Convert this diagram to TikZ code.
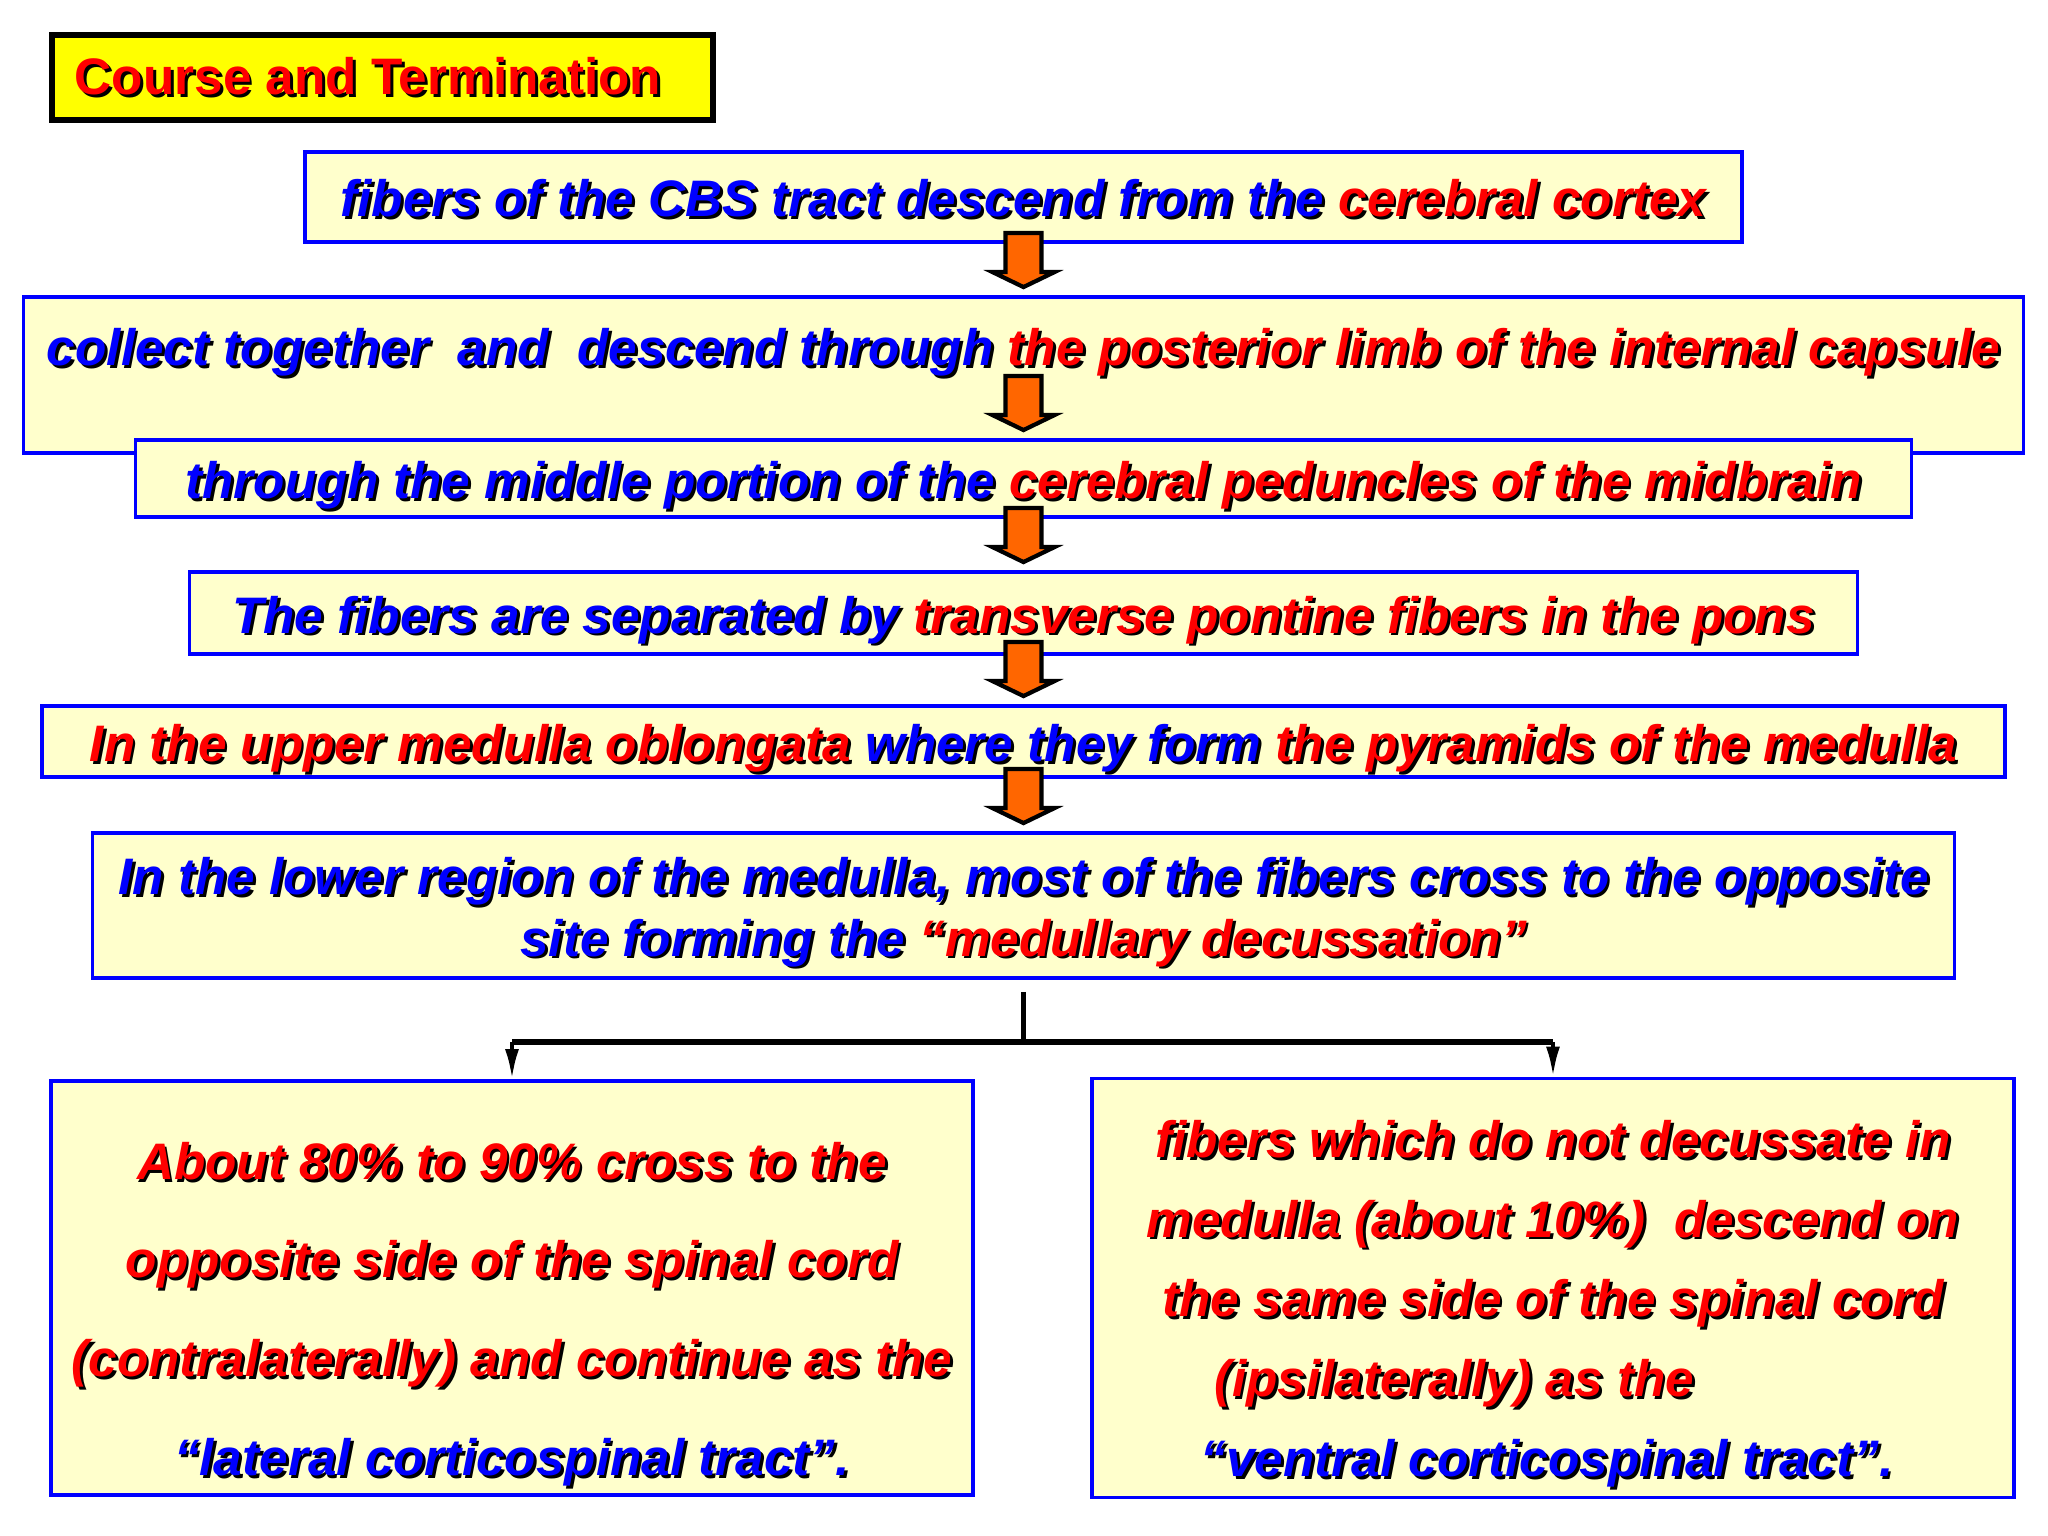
\documentclass[tikz,border=0pt]{standalone}
\usepackage{fontspec}
\setmainfont{Liberation Sans}
\usepackage{tikz}
\usetikzlibrary{arrows.meta,positioning}
\usepackage{xcolor}
\definecolor{tbblue}{RGB}{0,0,255}
\definecolor{tbred}{RGB}{255,0,0}
\definecolor{tbfill}{RGB}{255,255,204}
\definecolor{tbyellow}{RGB}{255,255,0}
\definecolor{tborange}{RGB}{255,102,0}
\newcommand{\shadowed}[2]{\leavevmode\rlap{\kern0.8pt\raisebox{-0.8pt}{\color{black}#2}}{\color{#1}#2}}
\newcommand{\bluetx}[1]{\shadowed{tbblue}{#1}}
\newcommand{\redtx}[1]{\shadowed{tbred}{#1}}
\tikzstyle{heading} = [rectangle, draw=black, fill=tbyellow, line width=1.6pt, minimum width=6.61cm, minimum height=0.85cm, inner sep=0pt, font=\bfseries\fontsize{14.6}{17.4}\selectfont]
\tikzstyle{stage} = [rectangle, draw=tbblue, fill=tbfill, line width=1.1pt, text centered, inner sep=0pt, text height=0.55cm, text depth=0.15cm, font=\bfseries\itshape\fontsize{14.6}{17.4}\selectfont]
\tikzstyle{outcome} = [stage, align=center, minimum width=9.22cm]
\tikzstyle{blockarrow} = [draw=black, fill=tborange, line width=1.2pt, line join=miter]
\tikzstyle{trunk} = [line width=1.2pt]
\tikzstyle{forkbar} = [line width=1.8pt]
\tikzstyle{drop} = [line width=1.1pt, -{Latex[length=3mm,width=1.4mm]}]

\begin{document}
\begin{tikzpicture}
\useasboundingbox (0,0) rectangle (20.48,-15.36);

% Title
\node (heading) [heading] at (3.825,-0.775) {\redtx{Course and Termination}\hspace*{0.29cm}};

% Descending path
\node (cortex) [stage, minimum width=14.37cm, minimum height=0.90cm] at (10.235,-1.97) {\bluetx{fibers of the CBS tract descend from the} \redtx{cerebral cortex}};
\node (capsule) [stage, below of=cortex, node distance=1.78cm, minimum width=20cm, text height=0.69cm, text depth=0.87cm] {\bluetx{collect together\ \ and\ \ descend through} \redtx{the posterior limb of the internal capsule}};
\node (ped) [stage, below of=capsule, node distance=1.035cm, minimum width=17.76cm, minimum height=0.77cm] {\bluetx{through the middle portion of the} \redtx{cerebral peduncles of the midbrain}};
\node (pons) [stage, below of=ped, node distance=1.345cm, minimum width=16.68cm, minimum height=0.82cm] {\bluetx{The fibers are separated by} \redtx{transverse pontine fibers in the pons}};
\node (pyr) [stage, below of=pons, node distance=1.285cm, minimum width=19.63cm, minimum height=0.71cm] {\redtx{In the upper medulla oblongata} \bluetx{where they form} \redtx{the pyramids of the medulla}};
\node (dec) [stage, align=center, below of=pyr, node distance=1.64cm, minimum width=18.62cm, minimum height=1.45cm, text height=1.15cm, text depth=0.14cm] {\bluetx{In the lower region of the medulla, most of the fibers cross to the opposite}\\ \bluetx{site forming the} \redtx{“medullary decussation”}};

% Block arrows
\foreach \nxt in {capsule,ped,pons,pyr,dec}
  \draw[blockarrow] ([yshift=0.8mm]\nxt.north) -- ++(0.31,0.15) -- ++(-0.13,0) -- ++(0,0.39) -- ++(-0.36,0) -- ++(0,-0.39) -- ++(-0.13,0) -- cycle;

% After the decussation
\node (lat) [outcome, minimum height=4.14cm, text height=3.89cm, text depth=0.14cm, font=\bfseries\itshape\fontsize{14.6}{28.1}\selectfont] at (5.12,-12.88) {\redtx{About 80\% to 90\% cross to the}\\ \redtx{opposite side of the spinal cord}\\ \redtx{(contralaterally) and continue as the}\\ \bluetx{“lateral corticospinal tract”.}};
\node (ven) [outcome, right of=lat, node distance=10.41cm, minimum height=4.19cm, text height=3.91cm, text depth=0.14cm, font=\bfseries\itshape\fontsize{14.6}{22.7}\selectfont] {\redtx{fibers which do not decussate in}\\ \redtx{medulla (about 10\%)\ \ descend on}\\ \redtx{the same side of the spinal cord}\\ \redtx{(ipsilaterally) as the}\hbox to 1.97cm{}\\ \bluetx{“ventral corticospinal tract”.}\hbox to 0.12cm{}};

% Split
\coordinate (stem) at ([yshift=-1.2mm]dec.south);
\coordinate (fork) at ([yshift=-6.2mm]dec.south);
\draw[trunk] (stem) -- (fork);
\draw[forkbar] (lat |- fork) -- (ven |- fork);
\draw[drop] (lat |- fork) -- (lat);
\draw[drop] (ven |- fork) -- (ven);
\end{tikzpicture}
\end{document}
